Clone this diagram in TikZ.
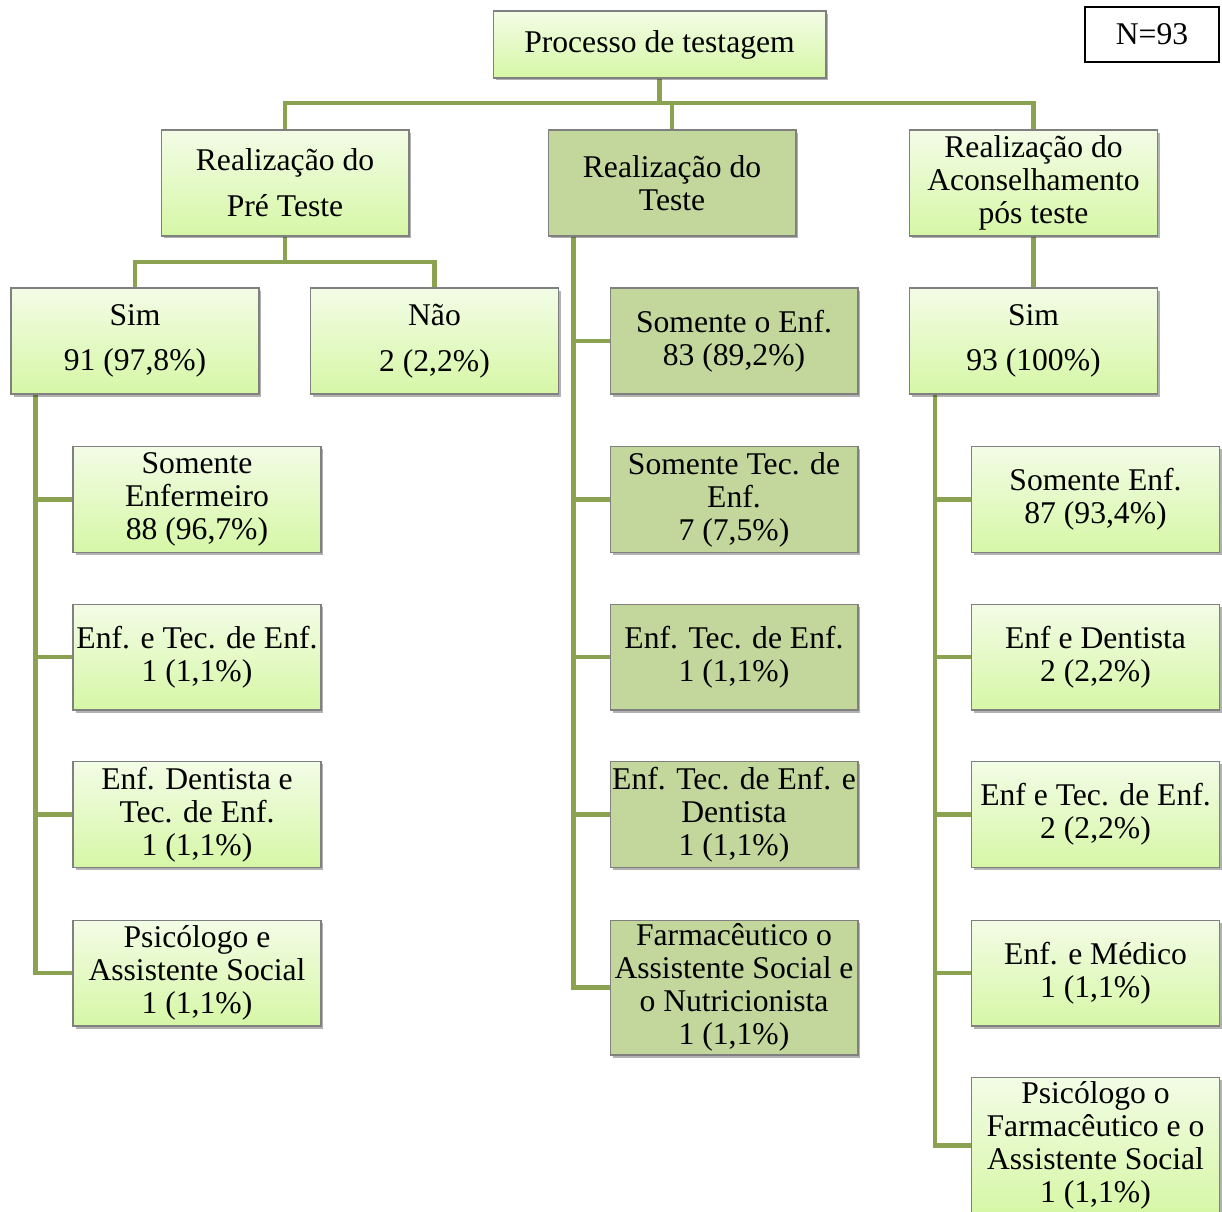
\documentclass[tikz,border=0pt]{standalone}
\usepackage{fontspec}
\setmainfont{Liberation Serif}
\usetikzlibrary{shadows,backgrounds}

\definecolor{boxtop}{RGB}{243,252,230}
\definecolor{boxbottom}{RGB}{214,247,166}
\definecolor{boxdark}{RGB}{195,214,155}
\definecolor{boxline}{RGB}{128,128,128}
\definecolor{linkgreen}{RGB}{139,163,80}

\tikzset{
  box/.style={rectangle,
    draw=boxline,
    line width=0.6pt,
    top color=boxtop,
    bottom color=boxbottom,
    minimum width=4.96cm,
    minimum height=2.12cm,
    inner sep=0pt,
    align=center,
    font=\fontsize{18}{18.8}\selectfont,
    drop shadow={shadow xshift=0.05cm, shadow yshift=-0.05cm, opacity=0.3, fill=black}},
  darkbox/.style={box,
    top color=boxdark,
    bottom color=boxdark},
  widebox/.style={font=\fontsize{18}{26}\selectfont},
  totalbox/.style={rectangle,
    draw=black,
    line width=1.2pt,
    fill=white,
    minimum width=2.68cm,
    minimum height=1.1cm,
    font=\fontsize{18}{18.8}\selectfont},
  link/.style={draw=linkgreen, line width=2.8pt, line cap=rect}
}

\begin{document}
\begin{tikzpicture}[x=0.02cm, y=-0.02cm]
        \useasboundingbox (0,0) rectangle (1222,1211);

        \node[box, minimum width=6.66cm, minimum height=1.34cm] (root) at (659.5,44.5) {Processo de testagem};
        \node[totalbox] (total) at (1152,34.5) {N=93};

        \node[box, widebox] (pre) at (285,183) {Realização do\\Pré Teste};
        \node[darkbox] (teste) at (672,183) {Realização do\\Teste};
        \node[box] (pos) at (1033.5,183) {Realização do\\Aconselhamento\\pós teste};

        \node[box, widebox] (presim) at (135,341) {Sim\\91 (97,8\%)};
        \node[box, widebox] (prenao) at (434.5,341) {Não\\2 (2,2\%)};
        \node[box, widebox] (possim) at (1033.5,341) {Sim\\93 (100\%)};

        \node[box] (pre1) at (197,499.5) {Somente\\Enfermeiro\\88 (96,7\%)};
        \node[box] (pre2) at (197,657) {Enf. e Tec. de Enf.\\1 (1,1\%)};
        \node[box] (pre3) at (197,814.5) {Enf. Dentista e\\Tec. de Enf.\\1 (1,1\%)};
        \node[box] (pre4) at (197,973) {Psicólogo e\\Assistente Social\\1 (1,1\%)};

        \node[darkbox] (tst1) at (734,341) {Somente o Enf.\\83 (89,2\%)};
        \node[darkbox] (tst2) at (734,499.5) {Somente Tec. de\\Enf.\\7 (7,5\%)};
        \node[darkbox] (tst3) at (734,657) {Enf. Tec. de Enf.\\1 (1,1\%)};
        \node[darkbox] (tst4) at (734,814.5) {Enf. Tec. de Enf. e\\Dentista\\1 (1,1\%)};
        \node[darkbox, minimum height=2.7cm] (tst5) at (734,987.5) {Farmacêutico o\\Assistente Social e\\o Nutricionista\\1 (1,1\%)};

        \node[box] (pos1) at (1095.5,499.5) {Somente Enf.\\87 (93,4\%)};
        \node[box] (pos2) at (1095.5,657) {Enf e Dentista\\2 (2,2\%)};
        \node[box] (pos3) at (1095.5,814.5) {Enf e Tec. de Enf.\\2 (2,2\%)};
        \node[box] (pos4) at (1095.5,973) {Enf. e Médico\\1 (1,1\%)};
        \node[box, minimum height=2.74cm] (pos5) at (1095.5,1145.5) {Psicólogo o\\Farmacêutico e o\\Assistente Social\\1 (1,1\%)};

        \begin{scope}[on background layer]
        \coordinate (bus) at (659.5,103);
        \coordinate (prebus) at (285,262);
        \draw[link] (root.south) -- (bus) -| (pre.north);
        \draw[link] (bus) -| (pos.north);
        \draw[link] (bus -| teste.north) -- (teste.north);

        \draw[link] (pre.south) -- (prebus) -| (presim.north);
        \draw[link] (prebus) -| (prenao.north);
        \draw[link] (pos.south) -- (possim.north);

        \foreach \n in {pre1,pre2,pre3,pre4}
          \draw[link] ([xshift=0.5cm]presim.south west) |- (\n.west);
        \foreach \n in {tst1,tst2,tst3,tst4,tst5}
          \draw[link] ([xshift=0.52cm]teste.south west) |- (\n.west);
        \foreach \n in {pos1,pos2,pos3,pos4,pos5}
          \draw[link] ([xshift=0.52cm]possim.south west) |- (\n.west);
        \end{scope}
    \end{tikzpicture}
\end{document}
